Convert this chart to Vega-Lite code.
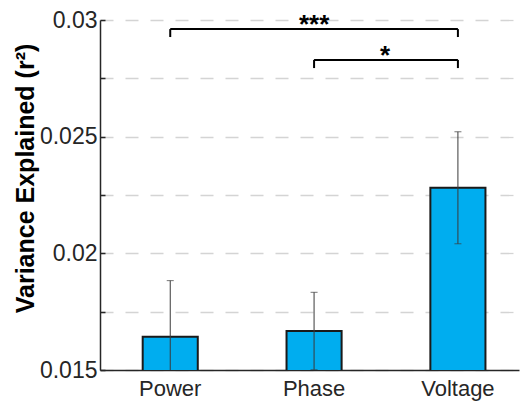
{
  "$schema": "https://vega.github.io/schema/vega-lite/v6.json",
  "autosize": "none",
  "width": 419,
  "height": 350,
  "padding": {"left": 100, "top": 20, "right": 1, "bottom": 36},
  "background": "white",
  "datasets": {
    "bars": [
      {"feature": "Power", "mean": 0.01643, "lo": 0.01403, "hi": 0.01883},
      {"feature": "Phase", "mean": 0.01667, "lo": 0.01501, "hi": 0.01833},
      {"feature": "Voltage", "mean": 0.02281, "lo": 0.02041, "hi": 0.02521}
    ],
    "brackets": [
      {"from": "Power", "to": "Voltage", "y": 0.02961, "label": "***"},
      {"from": "Phase", "to": "Voltage", "y": 0.02829, "label": "*"}
    ],
    "legs": [
      {"feature": "Power", "top": 0.02961, "bottom": 0.02927},
      {"feature": "Voltage", "top": 0.02961, "bottom": 0.02927},
      {"feature": "Phase", "top": 0.02829, "bottom": 0.02794},
      {"feature": "Voltage", "top": 0.02829, "bottom": 0.02794}
    ]
  },
  "config": {
    "view": {"stroke": null},
    "font": "Liberation Sans"
  },
  "encoding": {
    "x": {
      "field": "feature",
      "type": "nominal",
      "sort": ["Power", "Phase", "Voltage"],
      "scale": {"domain": ["Power", "Phase", "Voltage"], "paddingInner": 0.617, "paddingOuter": 0.265, "align": 0.56},
      "axis": {
        "title": null,
        "labelAngle": 0,
        "labelFontSize": 22,
        "labelColor": "#262626",
        "labelPadding": 8,
        "ticks": false,
        "domainColor": "#262626",
        "domainWidth": 1.5
      }
    }
  },
  "layer": [
    {
      "data": {"name": "bars"},
      "mark": {"type": "bar", "color": "#00ADEF", "stroke": "#1a1a1a", "strokeWidth": 2, "clip": true},
      "encoding": {
        "y": {
          "field": "mean",
          "type": "quantitative",
          "scale": {"domain": [0.015, 0.03], "zero": false, "nice": false},
          "axis": {
            "title": "Variance Explained (r²)",
            "titleFontSize": 25,
            "titleFontWeight": "bold",
            "titleColor": "#000000",
            "titlePadding": 1,
            "titleY": 158,
            "values": [0.015, 0.0175, 0.02, 0.0225, 0.025, 0.0275, 0.03],
            "format": ".3~f",
            "labelExpr": "round(datum.value * 10000) % 50 == 0 ? datum.label : ''",
            "labelFontSize": 23,
            "labelColor": "#262626",
            "labelPadding": 8,
            "tickSize": -5,
            "tickColor": "#262626",
            "tickWidth": 1.5,
            "domainColor": "#262626",
            "domainWidth": 1.5,
            "grid": true,
            "gridDash": [13, 12],
            "gridColor": "#d4d4d4",
            "gridWidth": 1.3
          }
        }
      }
    },
    {
      "data": {"name": "bars"},
      "mark": {"type": "rule", "color": "#3a3a3a", "strokeWidth": 1, "clip": true},
      "encoding": {
        "y": {"field": "lo", "type": "quantitative"},
        "y2": {"field": "hi"}
      }
    },
    {
      "data": {"name": "bars"},
      "mark": {"type": "tick", "color": "#3a3a3a", "thickness": 1, "size": 7, "clip": true},
      "encoding": {"y": {"field": "hi", "type": "quantitative"}}
    },
    {
      "data": {"name": "bars"},
      "mark": {"type": "tick", "color": "#3a3a3a", "thickness": 1, "size": 7, "clip": true},
      "encoding": {"y": {"field": "lo", "type": "quantitative"}}
    },
    {
      "data": {"name": "brackets"},
      "mark": {"type": "rule", "color": "#000000", "strokeWidth": 2},
      "encoding": {
        "x": {"field": "from", "type": "nominal"},
        "x2": {"field": "to"},
        "y": {"field": "y", "type": "quantitative"}
      }
    },
    {
      "data": {"name": "legs"},
      "mark": {"type": "rule", "color": "#000000", "strokeWidth": 2},
      "encoding": {
        "y": {"field": "top", "type": "quantitative"},
        "y2": {"field": "bottom"}
      }
    },
    {
      "data": {"name": "brackets"},
      "transform": [{"filter": "datum.label == '***'"}],
      "mark": {"type": "text", "fontSize": 26, "fontWeight": "bold", "baseline": "alphabetic", "dy": 4, "color": "#000000"},
      "encoding": {
        "x": {"datum": "Phase", "type": "nominal"},
        "y": {"field": "y", "type": "quantitative"},
        "text": {"field": "label"}
      }
    },
    {
      "data": {"name": "brackets"},
      "transform": [{"filter": "datum.label == '*'"}],
      "mark": {"type": "text", "fontSize": 26, "fontWeight": "bold", "baseline": "alphabetic", "dy": 4, "dx": 71, "color": "#000000"},
      "encoding": {
        "x": {"field": "from", "type": "nominal"},
        "y": {"field": "y", "type": "quantitative"},
        "text": {"field": "label"}
      }
    }
  ]
}
